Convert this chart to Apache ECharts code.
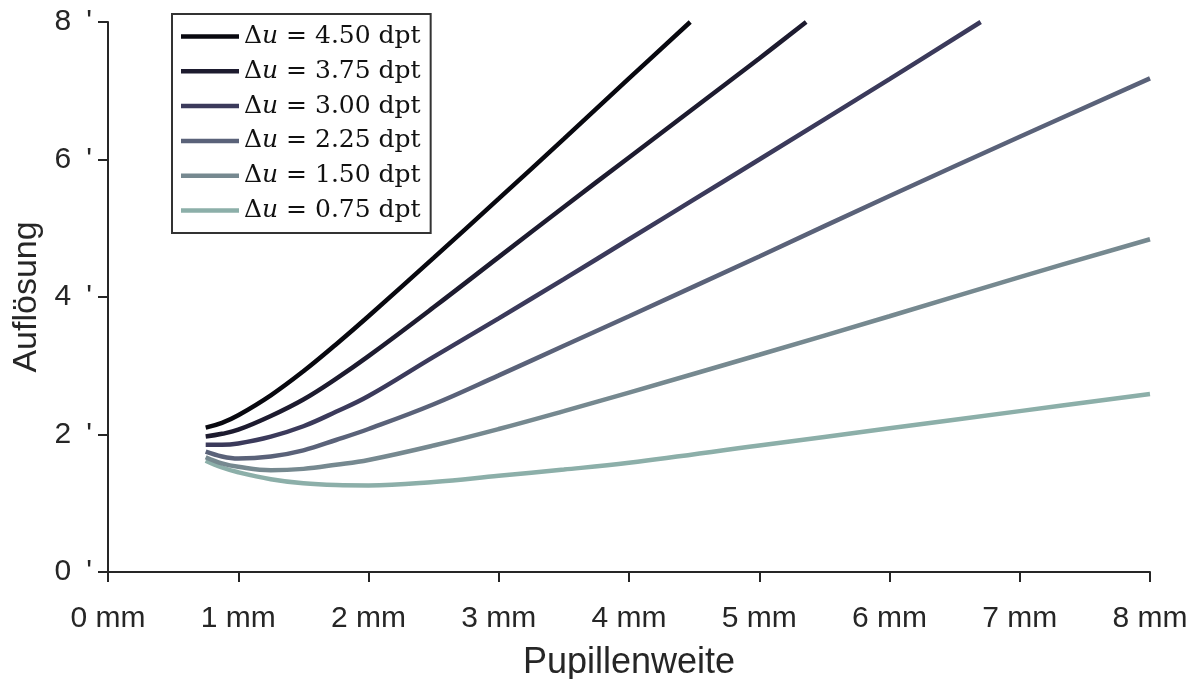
<!DOCTYPE html>
<html>
<head>
<meta charset="utf-8">
<script src="https://cdn.jsdelivr.net/npm/echarts@6/dist/echarts.min.js"></script>
<style>html,body{margin:0;padding:0;background:#fff;}#c{width:1196px;height:679px;}</style>
</head>
<body>
<div id="c"></div>
<script>
// Data
const deltaU = ['4.50', '3.75', '3.00', '2.25', '1.50', '0.75'];
const colors = ['#08080f', '#1d1b2f', '#3b3a5b', '#5a6279', '#768990', '#8cafa9'];

const x450 = [0.75, 0.875, 1.0, 1.25, 1.5, 1.75, 2.0, 2.5, 3.0, 3.5, 4.0, 4.47];
const y450 = [2.10, 2.17, 2.28, 2.57, 2.92, 3.31, 3.72, 4.57, 5.43, 6.30, 7.18, 8.0];

const x375 = [0.75, 0.875, 1.0, 1.25, 1.5, 1.75, 2.0, 2.5, 3.0, 3.5, 4.0, 4.5, 5.0, 5.36];
const y375 = [1.97, 2.01, 2.07, 2.27, 2.51, 2.81, 3.14, 3.85, 4.58, 5.31, 6.03, 6.75, 7.47, 8.0];

const x300 = [0.75, 0.875, 1.0, 1.25, 1.5, 1.75, 2.0, 2.5, 3.0, 3.5, 4.0, 4.5, 5.0, 6.0, 6.70];
const y300 = [1.85, 1.85, 1.87, 1.97, 2.12, 2.33, 2.56, 3.13, 3.69, 4.26, 4.84, 5.42, 6.00, 7.17, 8.0];

const x225 = [0.75, 0.875, 1.0, 1.25, 1.5, 1.75, 2.0, 2.5, 3.0, 3.5, 4.0, 5.0, 6.0, 7.0, 8.0];
const y225 = [1.75, 1.68, 1.65, 1.68, 1.77, 1.92, 2.08, 2.44, 2.86, 3.29, 3.72, 4.59, 5.47, 6.33, 7.18];

const x150 = [0.75, 0.875, 1.0, 1.25, 1.5, 1.75, 2.0, 2.5, 3.0, 3.5, 4.0, 5.0, 6.0, 7.0, 8.0];
const y150 = [1.67, 1.58, 1.53, 1.48, 1.50, 1.56, 1.63, 1.84, 2.08, 2.34, 2.61, 3.16, 3.72, 4.29, 4.84];

const x075 = [0.75, 0.875, 1.0, 1.25, 1.5, 1.75, 2.0, 2.5, 3.0, 3.5, 4.0, 5.0, 6.0, 7.0, 8.0];
const y075 = [1.62, 1.52, 1.45, 1.35, 1.29, 1.265, 1.26, 1.31, 1.40, 1.49, 1.59, 1.84, 2.09, 2.34, 2.59];

const xTicks = [0, 1, 2, 3, 4, 5, 6, 7, 8];
const yTicks = [0, 2, 4, 6, 8];

const allX = [x450, x375, x300, x225, x150, x075];
const allY = [y450, y375, y300, y225, y150, y075];

function pairs(xs, ys) { return xs.map((x, i) => [x, ys[i]]); }

const names = deltaU.map(d => 'Δu = ' + d + ' dpt');

const series = names.map((n, i) => ({
  name: n,
  type: 'line',
  data: pairs(allX[i], allY[i]),
  showSymbol: false,
  smooth: 0.4,
  color: colors[i],
  lineStyle: { width: 4.5, color: colors[i], cap: 'butt' },
  z: 10 - i
}));

const chart = echarts.init(document.getElementById('c'), null, { renderer: 'canvas' });
const axisCol = '#262626';
const sans = 'Liberation Sans, Arial, Helvetica, sans-serif';
chart.setOption({
  animation: false,
  backgroundColor: '#ffffff',
  grid: { left: 108, right: 46, top: 22, bottom: 107, containLabel: false, outerBoundsMode: 'none' },
  legend: {
    orient: 'vertical',
    left: 172, top: 14,
    data: names,
    icon: 'rect',
    itemWidth: 58, itemHeight: 4.5,
    itemGap: 9.8,
    padding: [10, 10, 10, 9],
    borderColor: '#333333', borderWidth: 2,
    backgroundColor: '#ffffff',
    formatter: function (name) {
      const v = name.replace('Δu = ', '').replace(' dpt', '');
      return '{a|Δ}{b|u}{a| = ' + v + ' dpt}';
    },
    textStyle: {
      padding: [0, 0, 0, 0],
      rich: {
        a: { fontFamily: 'DejaVu Serif', fontSize: 25, color: '#111' },
        b: { fontFamily: 'DejaVu Serif', fontStyle: 'italic', fontSize: 25, color: '#111' }
      }
    }
  },
  xAxis: {
    type: 'value', min: 0, max: 8, interval: 1,
    name: 'Pupillenweite', nameLocation: 'middle', nameGap: 73,
    nameTextStyle: { fontFamily: sans, fontSize: 36, color: axisCol },
    axisLine: { show: true, onZero: false, lineStyle: { color: axisCol, width: 2 } },
    axisTick: { show: true, inside: false, length: 10, lineStyle: { color: axisCol, width: 2 } },
    axisLabel: { formatter: v => v + ' mm', fontFamily: sans, fontSize: 30, color: axisCol, margin: 32 },
    splitLine: { show: false }
  },
  yAxis: {
    type: 'value', min: 0, max: 8, interval: 2,
    name: 'Auflösung', nameLocation: 'middle', nameGap: 64,
    nameTextStyle: { fontFamily: sans, fontSize: 34, color: axisCol },
    axisLine: { show: true, onZero: false, lineStyle: { color: axisCol, width: 2 } },
    axisTick: { show: true, inside: false, length: 10, lineStyle: { color: axisCol, width: 2 } },
    axisLabel: { formatter: v => v + "\u2002'", fontFamily: sans, fontSize: 30, color: axisCol, margin: 16 },
    splitLine: { show: false }
  },
  series: series
});
</script>
</body>
</html>
